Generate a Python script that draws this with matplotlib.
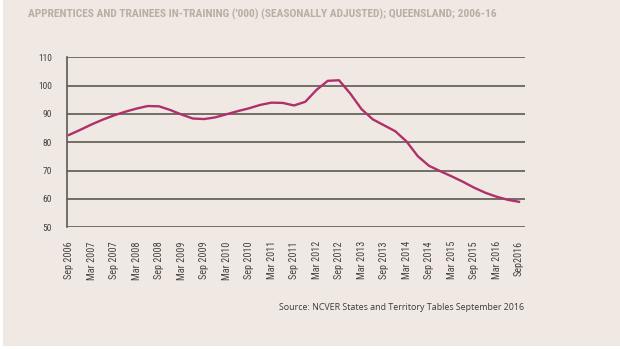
import matplotlib
matplotlib.use("Agg")
import matplotlib.pyplot as plt
from matplotlib.patches import Rectangle
import matplotlib.font_manager as fm

title = "APPRENTICES AND TRAINEES IN-TRAINING ('000) (SEASONALLY ADJUSTED); QUEENSLAND; 2006-16"
source = "Source: NCVER States and Territory Tables September 2016"

# quarterly values, Sep 2006 .. Sep 2016 ('000)
values = [82.6, 84.4, 86.3, 88.0, 89.5, 90.8, 91.9, 92.8, 92.7, 91.4,
          89.8, 88.4, 88.2, 88.8, 89.9, 91.0, 92.0, 93.2, 94.0, 93.9,
          93.0, 94.3, 98.5, 101.7, 101.9, 97.2, 91.7, 88.1, 86.0, 83.9,
          80.3, 75.1, 71.7, 69.8, 68.0, 66.1, 64.0, 62.2, 60.8, 59.7, 59.0]
tick_labels = ["Sep 2006", "Mar 2007", "Sep 2007", "Mar 2008", "Sep 2008",
               "Mar 2009", "Sep 2009", "Mar 2010", "Sep 2010", "Mar 2011",
               "Sep 2011", "Mar 2012", "Sep 2012", "Mar 2013", "Sep 2013",
               "Mar 2014", "Sep 2014", "Mar 2015", "Sep 2015", "Mar 2016",
               "Sep2016"]
y_ticks = [50, 60, 70, 80, 90, 100, 110]

bg = "#f0e9e3"
line_c = "#b0306c"
grid_c = "#5e5853"
title_c = "#b9aea3"

fonts = [(f.name, f.stretch) for f in fm.fontManager.ttflist]
names = {n for n, _ in fonts}
cond_stretch = None
if "Liberation Sans Narrow" in names:
    narrow = "Liberation Sans Narrow"
elif "Roboto Condensed" in names:
    narrow = "Roboto Condensed"
else:
    narrow = "DejaVu Sans"
    if any(n == "DejaVu Sans" and s in ("condensed", "semi-condensed", 600, 700, 400 - 100)
           for n, s in fonts):
        cond_stretch = "condensed"

W, H = 620, 349
fig = plt.figure(figsize=(W / 100, H / 100), dpi=100)
fig.patch.set_facecolor("white")
fig.patches.append(Rectangle((3 / W, 1 - 346 / H), 1, 346 / H, transform=fig.transFigure,
                             facecolor=bg, edgecolor="none", zorder=-10))

ax = fig.add_axes([67 / W, 1 - 227.3 / H, (525 - 67) / W, (227.3 - 57.3) / H])
ax.set_facecolor("none")
x = list(range(len(values)))
ax.plot(x, values, color=line_c, lw=1.7, zorder=3, solid_joinstyle="round")
ax.set_ylim(50, 110)
ax.set_xlim(-0.18, 40.53)
ax.set_yticks(y_ticks)
ax.set_yticklabels([str(v) for v in y_ticks])
ax.set_xticks(x[::2])
ax.set_xticklabels(tick_labels, rotation=90, va="top", ha="center")
for v in y_ticks:
    ax.axhline(v, color=grid_c, lw=1.2, zorder=2)
for s in ["top", "right", "bottom"]:
    ax.spines[s].set_visible(False)
ax.spines["left"].set_color(grid_c)
ax.spines["left"].set_linewidth(1.2)
ax.tick_params(axis="both", length=0, colors="#444444")
ax.tick_params(axis="x", pad=10, labelsize=7.3)
ax.tick_params(axis="y", pad=11, labelsize=6.8)
for t in ax.get_xticklabels() + ax.get_yticklabels():
    t.set_fontfamily(narrow)
    if cond_stretch:
        t.set_fontstretch(cond_stretch)

t1 = fig.text(28 / W, 1 - 14 / H, title, color=title_c, fontsize=12, fontweight="bold",
              family=narrow, ha="left", va="center")
if cond_stretch:
    t1.set_fontstretch(cond_stretch)
t2 = fig.text(524 / W, 1 - 307 / H, source, color="#3d3a38", fontsize=6.5,
              family="Open Sans", ha="right", va="center")

fig.canvas.draw()
r = fig.canvas.get_renderer()
for t, target in [(t1, 470), (t2, 245)]:
    w = t.get_window_extent(r).width
    t.set_fontsize(t.get_fontsize() * target / w)

fig.savefig("out.png", dpi=100, facecolor=fig.get_facecolor())
